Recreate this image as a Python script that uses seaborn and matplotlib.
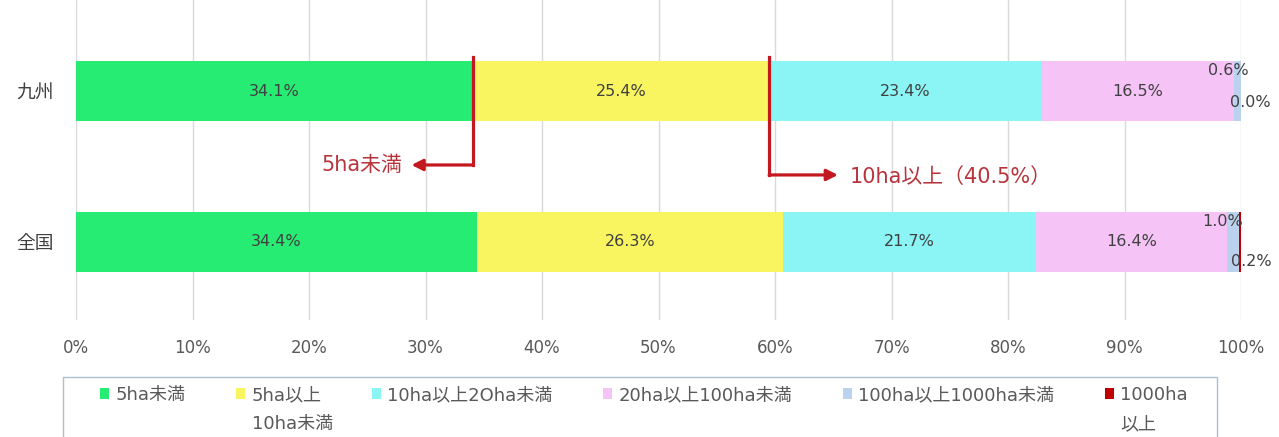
import numpy as np
import pandas as pd
import matplotlib
matplotlib.use("Agg")
import matplotlib.pyplot as plt
from matplotlib.patches import Patch, Rectangle
import seaborn as sns

# ---------------- data ----------------
regions = ["九州", "全国"]
categories = ["5ha未満", "5ha以上\n10ha未満", "10ha以上2Oha未満",
              "20ha以上100ha未満", "100ha以上1000ha未満", "1000ha\n以上"]
kyushu = [34.1, 25.4, 23.4, 16.5, 0.6, 0.0]
zenkoku = [34.4, 26.3, 21.7, 16.4, 1.0, 0.2]
xticks = [0, 10, 20, 30, 40, 50, 60, 70, 80, 90, 100]
xticklabels = ["0%", "10%", "20%", "30%", "40%", "50%", "60%", "70%", "80%", "90%", "100%"]
note_left = "5ha未満"
note_right = "10ha以上（40.5%）"

colors = ["#26EC74", "#F9F560", "#8BF5F5", "#F6C3F6", "#BBD2EE", "#C00000"]

# ---------------- style ----------------
sns.set_theme(style="white")
plt.rcParams["font.family"] = ["DejaVu Sans", "Noto Sans CJK JP"]

W, H = 1279, 437
fig = plt.figure(figsize=(W / 100, H / 100), dpi=100)
ax = fig.add_axes([76 / W, 1 - 320 / H, 1165 / W, 320 / H])

vals = np.array([kyushu, zenkoku])
cum = np.cumsum(vals, axis=1)

# stacked bars: draw cumulative totals from the largest to the smallest
for i in range(len(categories) - 1, -1, -1):
    df = pd.DataFrame({"region": regions, "value": cum[:, i]})
    sns.barplot(data=df, x="value", y="region", orient="h", color=colors[i],
                saturation=1, width=0.4, ax=ax, linewidth=0)

ax.set_xlim(0, 100)
ax.set_ylim(1.517, -0.603)
ax.set_xticks(xticks)
ax.set_xticklabels(xticklabels, fontsize=12, color="#595959")
ax.tick_params(axis="x", length=0, pad=14)
ax.tick_params(axis="y", length=0, pad=16, labelsize=13.5, labelcolor="#404040")
ax.set_xlabel("")
ax.set_ylabel("")
ax.grid(axis="x", color="#D9D9D9", linewidth=1)
ax.set_axisbelow(True)
for s in ["top", "right", "bottom", "left"]:
    ax.spines[s].set_visible(False)

# in-bar labels
small_offsets = {(0, 4): (-6.5, 15), (0, 5): (6.5, -8), (1, 4): (-7, 14.4), (1, 5): (8.6, -14.4)}
for r in range(len(regions)):
    for c in range(len(categories)):
        center = cum[r, c] - vals[r, c] / 2
        label = f"{vals[r, c]:.1f}%"
        if (r, c) in small_offsets:
            ax.annotate(label, (center, r), xytext=small_offsets[(r, c)],
                        textcoords="offset points", ha="center", va="center",
                        fontsize=11.5, color="#404040")
        else:
            ax.text(center, r, label, ha="center", va="center",
                    fontsize=11.5, color="#404040")

# annotation arrows
red = "#C41820"
txt_red = "#B8343C"
b1 = cum[0, 0]
b2 = cum[0, 1]
y1, y2 = 0.49, 0.556
ax.plot([b1, b1], [-0.225, y1], color=red, lw=2.3, solid_capstyle="projecting")
ax.annotate("", xy=(b1 - 5.3, y1), xytext=(b1, y1),
            arrowprops=dict(arrowstyle="-|>,head_length=0.55,head_width=0.28",
                            color=red, lw=2.3, shrinkA=0, shrinkB=0))
ax.text(b1 - 6.1, y1, note_left, ha="right", va="center", fontsize=15, color=txt_red)

ax.plot([b2, b2], [-0.225, y2], color=red, lw=2.3, solid_capstyle="projecting")
ax.annotate("", xy=(b2 + 5.9, y2), xytext=(b2, y2),
            arrowprops=dict(arrowstyle="-|>,head_length=0.55,head_width=0.28",
                            color=red, lw=2.3, shrinkA=0, shrinkB=0))
ax.text(b2 + 6.9, 0.57, note_right, ha="left", va="center", fontsize=15, color=txt_red)

# legend (first lines in the legend, second lines added beneath them)
first_lines = [c.split("\n")[0] for c in categories]
second_lines = [c.split("\n")[1] if "\n" in c else "" for c in categories]
handles = [Patch(facecolor=col, edgecolor="none") for col in colors]
leg = fig.legend(handles, first_lines, loc="center",
                 bbox_to_anchor=(644 / W, 1 - 395 / H),
                 ncol=6, fontsize=13, frameon=False,
                 handlelength=0.5, handleheight=0.5, handletextpad=0.35,
                 columnspacing=2.8, borderpad=0, labelcolor="#595959")

frame = Rectangle((63 / W, -0.05), (1217 - 63) / W, 1 - 377 / H + 0.05,
                  transform=fig.transFigure, facecolor="none",
                  edgecolor="#AEBFCF", linewidth=1, clip_on=False)
fig.add_artist(frame)

fig.canvas.draw()
renderer = fig.canvas.get_renderer()
for t, extra in zip(leg.get_texts(), second_lines):
    if extra:
        bb = t.get_window_extent(renderer)
        fig.text(bb.x0 / W, 1 - 424 / H, extra, ha="left", va="center",
                 fontsize=13, color="#595959")

fig.savefig("out.png", dpi=100)
